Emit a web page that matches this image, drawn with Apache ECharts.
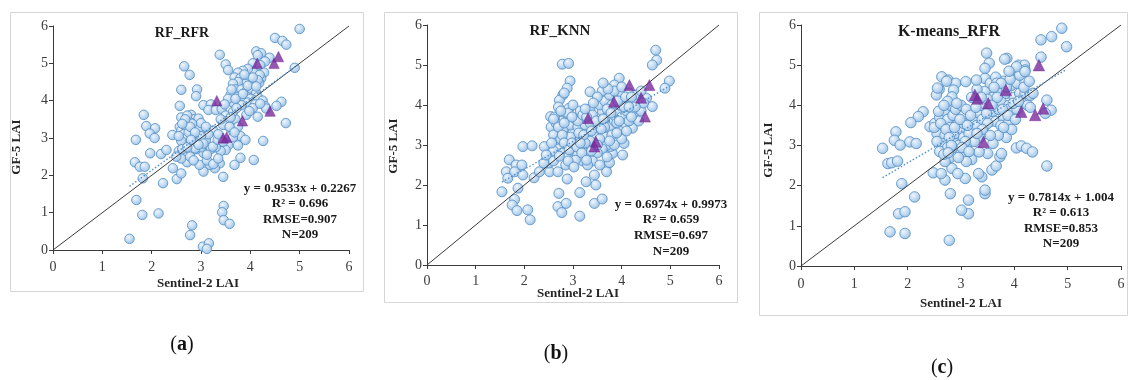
<!DOCTYPE html>
<html>
<head>
<meta charset="utf-8">
<title>GF-5 vs Sentinel-2 LAI</title>
<script src="https://cdn.jsdelivr.net/npm/echarts@6/dist/echarts.min.js"></script>
<style>
  html, body { margin: 0; padding: 0; background: #ffffff; }
  #chart { width: 1128px; height: 380px; }
</style>
</head>
<body>
<div id="chart"></div>
<script>
// ---- data: [Sentinel-2 LAI, GF-5 LAI] ----
const rfRfrPoints = [
  [1.55,0.3],[1.69,1.34],[1.81,0.94],[2.14,0.98],[1.82,1.92],[2.23,1.79],[1.66,2.35],[1.76,2.23],[1.86,2.23],[1.68,2.95],
  [1.84,3.62],[1.89,3.32],[2.07,3.26],[1.96,3.12],[2.06,3.0],[1.97,2.59],[2.19,2.57],[2.3,2.68],[2.43,2.19],[2.51,1.9],
  [2.6,2.05],[2.72,2.35],[2.42,3.08],[2.57,3.3],[2.57,3.86],[2.6,4.29],[2.66,4.92],[2.77,4.69],[2.92,4.3],[2.9,4.12],
  [2.82,0.66],[2.78,0.4],[3.04,0.09],[3.16,0.18],[3.12,0.03],[3.46,1.18],[3.43,1.01],[3.46,0.8],[3.58,0.7],[3.38,5.23],
  [3.5,4.97],[3.55,4.82],[5.0,5.92],[4.5,5.68],[4.65,5.6],[4.73,5.5],[4.9,4.88],[4.72,3.4],[4.63,3.97],[4.53,3.86],
  [4.26,2.92],[4.07,2.41],[3.68,2.28],[3.8,2.47],[3.45,1.96],[3.38,2.32],[3.28,2.19],[3.18,2.28],[3.05,2.1],[2.97,2.28],
  [3.12,2.4],
  [4.12,5.32],[4.22,5.27],[4.15,5.22],[4.39,5.15],[4.3,5.05],[4.05,5.0],[4.2,4.95],[4.28,4.75],[4.22,4.6],[4.18,4.48],
  [4.08,4.52],[3.98,4.57],[4.05,4.78],[3.95,4.85],[3.85,4.8],[3.75,4.75],[3.68,4.62],[3.8,4.6],[3.9,4.45],[3.75,4.5],
  [3.65,4.45],[3.7,4.3],[3.82,4.3],[3.92,4.25],[4.02,4.32],[4.12,4.2],[3.6,4.15],[3.75,4.1],[3.88,4.08],[4.0,4.05],
  [4.15,4.1],[4.25,4.0],[3.95,3.95],[3.82,3.88],[4.1,3.9],[4.3,3.85],[4.05,3.8],[3.92,3.62],[4.15,3.57],[4.32,3.79],
  [3.65,3.95],[3.55,4.05],[4.19,4.69],[4.15,4.55],
  [3.05,3.88],[3.2,3.9],[3.15,3.75],[3.3,3.75],[3.42,3.78],[3.5,3.6],[3.55,3.45],[3.45,3.35],[3.6,3.25],[3.7,3.5],
  [3.75,3.3],[3.8,3.05],[3.65,3.02],[3.55,2.8],[3.5,2.68],[3.4,2.65],[3.3,2.75],[3.2,2.7],[3.1,2.95],[3.05,2.6],
  [3.25,2.3],[3.35,2.45],[3.75,2.8],[3.9,2.95],[3.24,2.77],[3.34,2.95],[3.58,3.3],[3.65,3.7],[3.25,3.2],[3.35,3.1],
  [3.15,3.1],[3.0,3.2],[3.4,3.5],
  [2.6,3.2],[2.7,3.3],[2.8,3.62],[2.85,3.5],[2.75,3.45],[2.9,3.4],[2.95,3.52],[2.65,3.1],[2.7,3.0],[2.8,3.1],
  [2.9,3.05],[2.95,3.0],[2.75,2.85],[2.85,2.9],[2.65,2.8],[2.6,2.92],[2.7,2.6],[2.8,2.65],[2.9,2.7],[3.0,2.75],
  [2.55,2.65],[2.6,2.45],[2.5,2.5],[2.6,3.55],[2.85,3.25],[2.95,3.25],[3.0,3.4],[2.78,2.5],[2.88,2.72],[2.72,3.6],
  [2.68,3.4],[2.82,3.38],[2.92,2.88],[2.55,3.05],[2.75,3.15],[3.0,3.05],[3.05,2.85],[2.62,2.7],
  [2.68,3.5],[2.78,3.3],[2.88,3.15],[2.72,2.75],[2.95,2.82],[2.62,3.38],[2.8,2.95],[3.1,3.3],[3.12,2.55],[2.85,2.4],
  [3.7,4.05],[3.85,4.18],[3.95,4.4],[4.05,4.62],[3.72,3.8],[3.98,3.72],[4.2,3.92],[3.62,4.3],[3.88,4.7],[4.12,4.38],
  [3.48,3.9],[3.6,3.55],[3.68,3.15],[3.45,2.9]
];
const rfRfrTriangles = [[3.32,4.0],[3.45,3.0],[3.52,3.02],[3.84,3.46],[4.14,5.0],[4.48,5.0],[4.57,5.18],[4.4,3.72]];

const rfKnnPoints = [
  [4.7,5.37],[4.72,5.12],[4.63,5.0],[4.98,4.6],[4.89,4.42],[4.63,3.96],[4.51,4.17],[4.22,3.42],[4.02,2.75],[4.05,3.04],
  [3.95,4.67],[3.85,4.5],[2.78,5.02],[2.91,5.04],[2.94,4.6],[2.88,4.42],[2.79,4.25],[2.72,4.12],[3.35,4.33],[2.54,3.71],
  [2.69,3.71],[2.86,3.79],[2.92,3.92],[1.97,2.96],[2.16,2.98],[1.69,2.63],[1.63,2.33],[1.83,2.5],[1.95,2.5],[1.8,2.33],
  [1.66,2.17],[1.97,2.25],[2.2,2.18],[2.31,2.33],[2.41,2.96],[1.54,1.83],[1.87,1.92],[1.8,1.64],[1.75,1.5],[1.85,1.36],
  [2.07,1.38],[2.12,1.13],[2.71,1.79],[2.69,1.46],[2.86,1.54],[2.77,1.31],[3.14,1.81],[3.14,1.22],[2.88,2.15],[3.27,2.08],
  [3.44,2.25],[3.47,2.0],[3.44,1.54],[3.6,1.65],[2.52,2.33],[2.69,2.33],[3.68,2.46],[3.69,2.33],[3.75,2.56],[3.81,2.79],
  [3.77,2.96],
  [2.55,3.45],[2.6,3.25],[2.65,3.05],[2.7,2.9],[2.6,2.85],[2.75,3.6],[2.8,3.4],[2.85,3.2],[2.9,3.0],[2.8,2.8],
  [2.9,2.7],[2.95,2.55],[2.85,2.5],[3.0,2.85],[3.05,3.1],[3.0,3.3],[2.95,3.5],[3.05,3.65],[3.1,3.45],[3.15,3.2],
  [3.2,3.0],[3.1,2.75],[3.2,2.6],[3.25,2.8],[3.3,3.3],[3.25,3.5],[3.35,3.9],[3.4,3.75],[3.45,3.5],[3.5,3.3],
  [3.55,3.6],[3.6,3.85],[3.55,4.0],[3.65,4.1],[3.7,3.7],[3.75,3.45],[3.65,3.2],[3.7,3.0],[3.8,3.25],[3.85,3.6],
  [3.9,3.85],[3.95,4.0],[4.0,3.7],[4.05,3.5],[4.1,3.85],[4.1,4.1],[4.2,4.0],[4.25,3.8],[4.3,4.1],[4.35,3.9],
  [4.4,3.85],[4.45,4.05],[3.9,4.2],[4.0,4.3],[3.75,4.25],[3.6,4.35],[3.8,4.0],[3.45,3.2],[3.35,3.1],[3.6,2.9],
  [3.5,2.8],[3.4,2.6],[3.55,2.5],[3.3,2.5],[2.9,3.8],[3.0,4.0],[2.65,3.55],[2.75,3.15],[3.15,3.85],[3.5,4.2],
  [3.85,4.35],[4.15,4.3],[4.3,4.25],[3.95,3.35],[4.15,3.6],[4.35,3.6],[4.0,3.15],[3.85,3.0],[2.5,2.55],[2.6,2.6],
  [2.4,2.55],[3.1,3.6],[3.2,3.75],[3.35,3.55],[3.65,3.45],[3.9,3.55],[4.05,3.95],[3.7,3.9],[3.25,3.05],[2.95,3.2],
  [2.62,3.7],[2.7,3.45],[2.78,3.25],[2.82,3.05],[2.72,2.72],[2.92,2.88],[2.98,3.05],[3.08,2.95],[3.12,3.3],[3.22,3.25],
  [3.28,3.7],[3.38,3.35],[3.48,3.6],[3.58,3.4],[3.62,3.65],[3.78,3.8],[3.92,4.1],[4.08,4.2],[4.2,3.7],[4.28,3.95],
  [3.72,4.4],[4.0,4.45],[3.42,4.05],[2.98,3.7],[2.82,3.55],[3.05,2.62],[3.18,2.8],[3.28,2.62],[2.7,3.95],[2.82,4.3],
  [3.9,3.3],[4.1,3.35],[3.75,3.1],[3.55,3.15],[3.62,4.55],[4.2,4.2],[4.4,4.35],[2.56,3.05],[2.45,2.75],[2.6,3.65],
  [3.15,3.05],[3.38,2.85],[3.5,3.0],[3.95,3.6],[4.15,3.95],[2.9,2.6],[3.02,2.45],[3.7,2.7],[2.75,3.85],[3.25,3.9]
];
const rfKnnTriangles = [[3.31,3.67],[3.47,3.08],[3.44,2.96],[3.84,4.08],[4.16,4.5],[4.57,4.5],[4.4,4.18],[4.48,3.71]];

const kmRfrPoints = [
  [4.89,5.92],[4.7,5.71],[4.98,5.46],[4.5,5.63],[4.5,5.2],[4.61,4.13],[4.69,3.88],[4.58,3.8],[4.61,2.49],[4.04,2.94],
  [4.13,2.99],[4.23,2.93],[4.34,2.84],[3.86,5.17],[3.48,5.3],[3.53,5.05],[3.45,4.92],[3.45,4.67],[4.08,5.0],[4.19,5.0],
  [4.2,4.88],[4.08,4.75],[2.64,4.71],[2.76,4.63],[2.9,4.55],[3.09,4.59],[2.86,4.38],[2.83,4.21],[2.59,4.4],[2.54,4.26],
  [2.29,3.84],[2.2,3.72],[2.06,3.57],[2.42,3.47],[2.51,3.55],[1.53,2.93],[1.78,3.34],[1.75,3.13],[1.86,3.01],[2.04,3.09],
  [2.16,3.05],[1.63,2.55],[1.7,2.57],[1.81,2.61],[1.89,2.05],[2.13,1.72],[1.83,1.3],[1.95,1.35],[1.67,0.85],[1.95,0.81],
  [2.78,0.64],[2.8,1.8],[3.14,1.64],[3.14,1.3],[3.01,1.39],[3.45,1.8],[3.45,1.89],[3.39,2.22],[3.33,2.3],[2.48,2.32],
  [2.7,2.14],[2.63,2.3],[2.83,2.43],[3.08,2.18],[2.94,2.3],[3.58,2.39],[3.66,2.49],[3.73,2.72],[3.76,2.8],[3.5,2.8],
  [3.34,2.84],
  [2.6,3.7],[2.65,3.5],[2.55,3.3],[2.7,3.85],[2.75,3.65],[2.8,3.45],[2.7,3.25],[2.65,3.05],[2.75,2.95],[2.85,3.1],
  [2.9,3.3],[2.95,3.55],[2.85,3.75],[2.8,4.0],[2.9,3.9],[3.0,4.0],[3.05,3.75],[3.0,3.4],[3.05,3.2],[2.95,3.0],
  [2.9,2.8],[2.8,2.7],[2.7,2.6],[2.6,2.85],[3.0,2.8],[3.1,3.0],[3.15,3.3],[3.2,4.2],[3.25,3.65],[3.3,3.5],
  [3.35,3.8],[3.4,4.0],[3.45,4.35],[3.55,4.55],[3.6,4.2],[3.6,3.85],[3.55,3.6],[3.65,3.6],[3.7,3.9],[3.75,4.1],
  [3.7,4.4],[3.8,4.6],[3.85,4.3],[3.9,4.0],[3.8,3.7],[3.75,3.5],[3.95,3.8],[4.0,4.2],[3.95,4.5],[4.05,4.55],
  [4.1,4.3],[4.15,4.05],[4.2,4.3],[4.25,4.0],[4.05,3.9],[3.9,3.6],[3.85,3.2],[3.7,3.25],[3.6,3.05],[3.45,3.3],
  [3.35,3.2],[3.25,3.1],[3.2,2.65],[3.1,2.6],[3.65,4.7],[3.5,4.15],[3.3,4.4],[3.85,4.45],[4.2,4.6],[4.1,4.75],
  [3.95,3.4],[2.55,3.1],[2.5,3.45],[2.75,4.1],[3.1,3.9],[3.4,3.65],[4.3,4.25],[4.35,4.3],[2.85,2.95],[3.05,3.55],
  [2.73,4.6],[2.56,4.43],[3.29,4.63],[3.67,4.55],[4.04,4.96],[4.2,4.84],[3.82,5.15],
  [2.62,3.55],[2.72,3.4],[2.78,3.2],[2.88,3.45],[2.98,3.65],[2.82,3.0],[2.68,2.78],[2.95,2.7],[3.08,3.1],[3.12,3.5],
  [3.18,3.75],[3.28,3.95],[3.38,4.2],[3.48,3.8],[3.58,4.0],[3.68,4.2],[3.78,3.9],[3.88,3.75],[3.98,4.05],[4.08,4.1],
  [4.18,4.45],[4.28,4.6],[3.92,4.65],[3.75,4.55],[3.62,4.45],[3.5,3.55],[3.4,3.4],[3.3,3.3],[3.55,3.25],[3.8,3.45],
  [2.58,3.85],[2.92,4.05],[2.68,4.0],[3.02,2.95],[2.76,2.82],[3.15,2.85],[4.02,3.65],[4.3,3.95],[3.9,4.85]
];
const kmRfrTriangles = [[3.26,4.26],[3.31,4.17],[3.51,4.05],[3.84,4.38],[4.46,5.0],[4.13,3.84],[4.39,3.76],[4.54,3.92],[3.42,3.09]];

// fitted trendline coefficients [slope, intercept] and x-range [min, max]
const fitCoefs = [[0.9533, 0.2267], [0.6974, 0.9973], [0.7814, 1.004]];
const fitRanges = [[1.55, 5.0], [1.54, 4.98], [1.53, 4.98]];

// texts
const panelTitles = ['RF_RFR', 'RF_KNN', 'K-means_RFR'];
const statLines = [
  ['y = 0.9533x + 0.2267', 'R\u00b2 = 0.696', 'RMSE=0.907', 'N=209'],
  ['y = 0.6974x + 0.9973', 'R\u00b2 = 0.659', 'RMSE=0.697', 'N=209'],
  ['y = 0.7814x + 1.004', 'R\u00b2 = 0.613', 'RMSE=0.853', 'N=209']
];
const panelTags = ['a', 'b', 'c'];
const axisTicks = [0, 1, 2, 3, 4, 5, 6];
const xAxisTitle = 'Sentinel-2 LAI';
const yAxisTitle = 'GF-5 LAI';

// ---- layout ----
const panels = [
  { box: [10.5, 12.5, 353, 279], grid: { left: 53, top: 26, width: 296, height: 224 },
    titleAt: [182, 33], titleSize: 14, statX: 300, statY: [189, 204, 220, 235],
    xNameAt: [198, 284], yNameAt: [17, 147], tagAt: [182, 345], dot: 9.5, tri: 10.5, xMargin: 10 },
  { box: [384.5, 12.5, 353, 290], grid: { left: 427, top: 25, width: 292, height: 240 },
    titleAt: [560, 31], titleSize: 15, statX: 671, statY: [205, 220, 236, 252],
    xNameAt: [578, 294], yNameAt: [394, 146], tagAt: [556, 354], dot: 10, tri: 11, xMargin: 9 },
  { box: [759.5, 12.5, 368, 303], grid: { left: 801, top: 25, width: 320, height: 241 },
    titleAt: [949, 32], titleSize: 16, statX: 1061, statY: [198, 213, 229, 244],
    xNameAt: [961, 304], yNameAt: [769, 150], tagAt: [942, 368], dot: 10.5, tri: 11.5, xMargin: 11 }
];

const circleFill = {
  type: 'radial', x: 0.38, y: 0.35, r: 0.75,
  colorStops: [
    { offset: 0, color: '#eef5fc' },
    { offset: 0.55, color: '#bad6f0' },
    { offset: 1, color: '#8ab7e2' }
  ]
};

const serif = '"Liberation Serif", "Times New Roman", serif';
const allPoints = [rfRfrPoints, rfKnnPoints, kmRfrPoints];
const allTriangles = [rfRfrTriangles, rfKnnTriangles, kmRfrTriangles];

const grids = [], xAxes = [], yAxes = [], series = [], graphics = [];

panels.forEach((p, i) => {
  grids.push(Object.assign({ containLabel: false }, p.grid));

  const axisCommon = {
    gridIndex: i, type: 'value', min: axisTicks[0], max: axisTicks[axisTicks.length - 1], interval: 1,
    axisLine: { show: true, onZero: false, lineStyle: { color: '#3a3a3a', width: 1 } },
    axisTick: { show: true, length: 4, lineStyle: { color: '#3a3a3a' } },
    splitLine: { show: false },
    axisLabel: { fontFamily: serif, fontSize: 14, color: '#3c3c3c' }
  };
  xAxes.push(Object.assign({}, axisCommon, { axisLabel: Object.assign({}, axisCommon.axisLabel, { margin: p.xMargin }) }));
  yAxes.push(Object.assign({}, axisCommon, { axisLabel: Object.assign({}, axisCommon.axisLabel, { margin: 5 }) }));

  // 1:1 reference line
  series.push({
    type: 'line', xAxisIndex: i, yAxisIndex: i, data: [[0, 0], [6, 6]],
    symbol: 'none', silent: true, z: 4,
    lineStyle: { color: '#3b3b3b', width: 1 }
  });

  // samples
  series.push({
    type: 'scatter', xAxisIndex: i, yAxisIndex: i, data: allPoints[i],
    symbol: 'circle', symbolSize: p.dot, z: 3,
    itemStyle: { color: circleFill, borderColor: '#5890c6', borderWidth: 0.9, opacity: 0.95 }
  });

  // fitted trendline (dotted)
  const [k, b] = fitCoefs[i];
  const [x0, x1] = fitRanges[i];
  series.push({
    type: 'line', xAxisIndex: i, yAxisIndex: i,
    data: [[x0, k * x0 + b], [x1, k * x1 + b]],
    symbol: 'none', silent: true, z: 5,
    lineStyle: { color: '#4f8fd0', width: 1.4, type: [1.5, 2] }
  });

  // highlighted samples
  series.push({
    type: 'scatter', xAxisIndex: i, yAxisIndex: i, data: allTriangles[i],
    symbol: 'triangle', symbolSize: p.tri, z: 6,
    itemStyle: { color: '#7a2a9e', borderColor: '#6a1f8c', borderWidth: 0.5 }
  });

  // panel frame
  graphics.push({
    type: 'rect', shape: { x: p.box[0], y: p.box[1], width: p.box[2], height: p.box[3] },
    style: { fill: 'none', stroke: '#d6d6d6', lineWidth: 1 }, silent: true, z: -1
  });

  // panel title
  graphics.push({
    type: 'text', x: p.titleAt[0], y: p.titleAt[1], silent: true,
    style: { text: panelTitles[i], fill: '#1a1a1a', font: 'bold ' + p.titleSize + 'px ' + serif,
      textAlign: 'center', textVerticalAlign: 'middle' }
  });

  // statistics block
  statLines[i].forEach((line, j) => {
    graphics.push({
      type: 'text', x: p.statX, y: p.statY[j], silent: true,
      style: { text: line, fill: '#1a1a1a', font: 'bold 13px ' + serif,
        textAlign: 'center', textVerticalAlign: 'middle' }
    });
  });

  // axis names
  graphics.push({
    type: 'text', x: p.xNameAt[0], y: p.xNameAt[1], silent: true,
    style: { text: xAxisTitle, fill: '#262626', font: 'bold 13px ' + serif,
      textAlign: 'center', textVerticalAlign: 'middle' }
  });
  graphics.push({
    type: 'text', x: p.yNameAt[0], y: p.yNameAt[1], rotation: Math.PI / 2, silent: true,
    style: { text: yAxisTitle, fill: '#262626', font: 'bold 13px ' + serif,
      textAlign: 'center', textVerticalAlign: 'middle' }
  });

  // sub-figure tag
  graphics.push({
    type: 'text', x: p.tagAt[0], y: p.tagAt[1], silent: true,
    style: {
      text: '({t|' + panelTags[i] + '})',
      fill: '#111', font: '20px ' + serif,
      rich: { t: { fontWeight: 'bold', fontSize: 20, fontFamily: serif, fill: '#111' } },
      textAlign: 'center', textVerticalAlign: 'middle'
    }
  });
});

const chart = echarts.init(document.getElementById('chart'), null, { renderer: 'canvas' });
chart.setOption({
  animation: false,
  backgroundColor: '#ffffff',
  grid: grids,
  xAxis: xAxes,
  yAxis: yAxes,
  series: series,
  graphic: { elements: graphics }
});
</script>
</body>
</html>
